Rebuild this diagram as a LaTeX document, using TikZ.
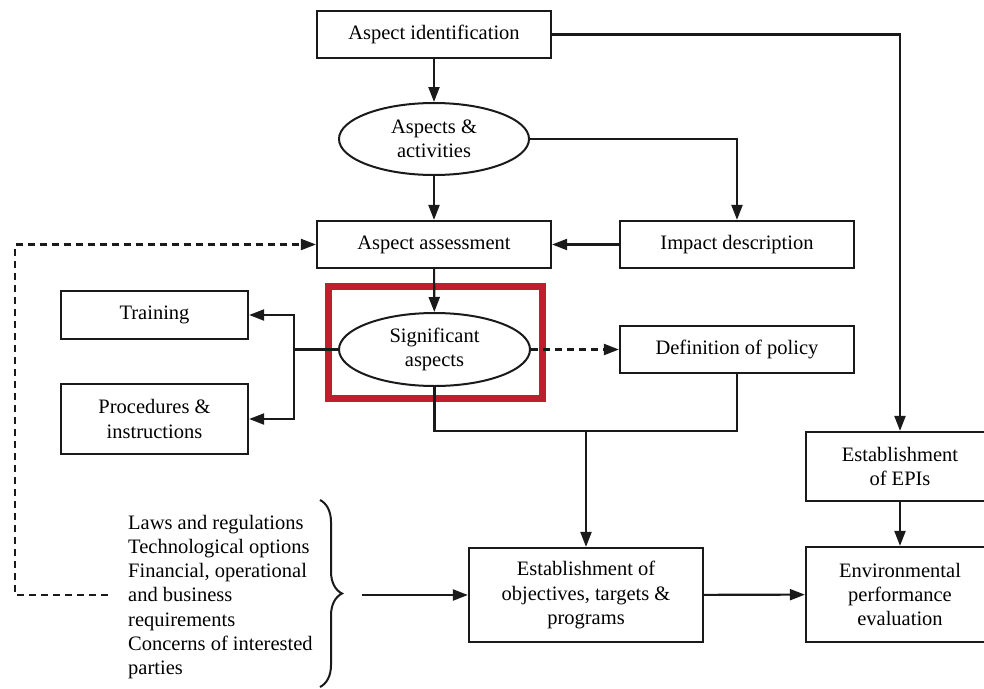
\documentclass[tikz,border=0pt]{standalone}
\usepackage{fontspec}
\setmainfont{Liberation Serif}
\usetikzlibrary{arrows.meta,shapes.geometric,decorations.pathreplacing}
\definecolor{ink}{HTML}{1A1A1A}
\definecolor{hired}{HTML}{BE1E2D}
\tikzset{
  box/.style={draw=ink, line width=2.2pt, rectangle, align=center, inner sep=0pt},
  oval/.style={draw=ink, line width=2pt, ellipse, align=center, inner sep=0pt},
  conn/.style={draw=ink, line width=2.1pt},
  arr/.style={conn, -{Triangle[length=15pt,width=11pt]}},
  dashedconn/.style={conn, dash pattern=on 7pt off 5pt},
}
\begin{document}
\begin{tikzpicture}[x=1pt,y=-1pt,font=\fontsize{20.5}{24.3}\selectfont]
\useasboundingbox (0,0) rectangle (984,688);
\clip (0,0) rectangle (984,688);
\fill[white] (0,0) rectangle (984,688);

% nodes
\node[box, minimum width=234pt, minimum height=47pt] (ident) at (434,34.5) {Aspect identification};
\node[oval, minimum width=190pt, minimum height=72pt] (acts) at (434,139) {Aspects \&\\activities};
\node[box, minimum width=234pt, minimum height=47pt] (assess) at (434,244.5) {Aspect assessment};
\node[box, minimum width=234pt, minimum height=47pt] (impact) at (737,244.5) {Impact description};
\node[oval, minimum width=191pt, minimum height=73pt] (sig) at (434.5,349.5) {Significant\\aspects};
\node[box, minimum width=187pt, minimum height=48pt] (train) at (154.5,315) {Training};
\node[box, minimum width=187pt, minimum height=70pt] (proc) at (154.5,419) {Procedures \&\\instructions};
\node[box, minimum width=234pt, minimum height=47pt] (policy) at (737,349.5) {Definition of policy};
\node[box, minimum width=188pt, minimum height=69pt] (epis) at (900,466.5) {Establishment\\of EPIs};
\node[box, minimum width=234pt, minimum height=94pt] (obj) at (586,595) {Establishment of\\objectives, targets \&\\programs};
\node[box, minimum width=188pt, minimum height=95pt] (env) at (900,594.5) {Environmental\\performance\\evaluation};
\node[align=left, anchor=west, inner sep=0pt] (laws) at (128,597) {Laws and regulations\\Technological options\\Financial, operational\\and business\\requirements\\Concerns of interested\\parties};

% highlight
\draw[hired, line width=7pt] (328,286) rectangle (542,398);

% coordinates
\coordinate (jl) at (294,349.5);
\coordinate (actsr) at (737,139);
\coordinate (identr) at (900,34.5);
\coordinate (jb1) at (434.5,431);
\coordinate (jb2) at (737,431);
\coordinate (jmid) at (586,431);
\coordinate (bt) at (320,500);
\coordinate (bb) at (320,687);
\coordinate (bout) at (362,595);
\coordinate (dstart) at (108,595);
\coordinate (dc1) at (15,595);
\coordinate (dc2) at (15,244.5);

% connectors
\draw[arr] (ident) -- (acts);
\draw[arr] (acts) -- (assess);
\draw[arr] (acts.east) -- (actsr) -- (impact.north);
\draw[arr] (ident.east) -- (identr) -- (epis.north);
\draw[arr] (impact) -- (assess);
\draw[arr] (assess) -- (sig);
\draw[conn] (sig.west) -- (jl);
\draw[arr] (jl) |- (train.east);
\draw[arr] (jl) |- (proc.east);
\draw[dashedconn, -{Triangle[length=15pt,width=11pt]}] (sig.east) -- (policy.west);
\draw[conn] (sig.south) -- (jb1) -- (jb2) -- (policy.south);
\draw[arr] (jmid) -- (obj.north);
\draw[arr] (epis) -- (env);
\draw[arr] (obj) -- (env);
\draw[arr] (bout) -- (obj.west);
\draw[dashedconn, -{Triangle[length=15pt,width=11pt]}] (dstart) -- (dc1) -- (dc2) -- (assess.west);
\draw[ink, line width=2pt, decorate, decoration={brace, amplitude=22pt}] (bt) -- (bb);
\end{tikzpicture}
\end{document}
